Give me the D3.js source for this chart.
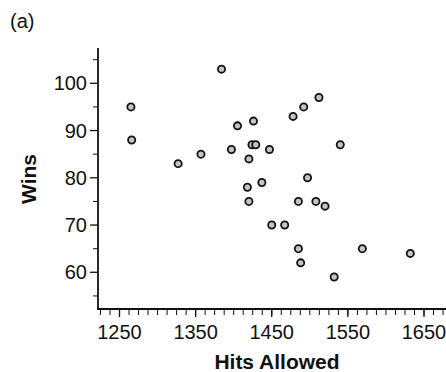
<!DOCTYPE html>
<html>
<head>
<meta charset="utf-8">
<script src="https://cdn.jsdelivr.net/npm/d3@7"></script>
<style>
  body { margin: 0; background: #fff; }
  svg { display: block; font-family: "Liberation Sans", Arial, sans-serif; }
</style>
</head>
<body>
<svg id="chart"></svg>
<script>
// hits allowed vs wins, one point per team
const hitsAllowed = [1265, 1266, 1327, 1357, 1384, 1397, 1405, 1426, 1424, 1429,
                     1420, 1418, 1420, 1437, 1447, 1450, 1467, 1478, 1492, 1512,
                     1497, 1485, 1508, 1520, 1540, 1485, 1488, 1532, 1569, 1632];
const wins = [95, 88, 83, 85, 103, 86, 91, 92, 87, 87,
              84, 78, 75, 79, 86, 70, 70, 93, 95, 97,
              80, 75, 75, 74, 87, 65, 62, 59, 65, 64];
const xTickLabels = [1250, 1350, 1450, 1550, 1650];
const yTickLabels = [60, 70, 80, 90, 100];

drawChart();

function drawChart() {
    const width = 446, height = 372;
    const svg = d3.select("#chart").attr("width", width).attr("height", height);

    const x = d3.scaleLinear().domain([1250, 1650]).range([119.5, 424]);
    const y = d3.scaleLinear().domain([60, 100]).range([272.3, 83.3]);
    const x0 = 98, y0 = 309, yTop = 48;

    // (a) panel label
    svg.append("text").attr("x", 10).attr("y", 28)
        .attr("font-size", 20).attr("fill", "#111").text("(a)");

    // y axis
    const yMinor = d3.range(55, 108, 10);
    svg.append("line").attr("x1", x0).attr("x2", x0).attr("y1", yTop).attr("y2", y0 + 1)
        .attr("stroke", "#111").attr("stroke-width", 1.8);
    svg.selectAll(".ytick").data(yTickLabels).join("line")
        .attr("x1", x0 - 8).attr("x2", x0).attr("y1", d => y(d)).attr("y2", d => y(d))
        .attr("stroke", "#111").attr("stroke-width", 1.3);
    svg.selectAll(".yminor").data(yMinor).join("line")
        .attr("x1", x0 - 5).attr("x2", x0).attr("y1", d => y(d)).attr("y2", d => y(d))
        .attr("stroke", "#111").attr("stroke-width", 1);
    svg.selectAll(".ylab").data(yTickLabels).join("text")
        .attr("x", x0 - 11).attr("y", d => y(d) + 7)
        .attr("text-anchor", "end").attr("font-size", 20).attr("fill", "#111")
        .text(d => d);

    // x axis
    const xMinor = d3.range(1225, 1680, 12.5);
    svg.append("line").attr("x1", x0 - 1).attr("x2", width).attr("y1", y0).attr("y2", y0)
        .attr("stroke", "#111").attr("stroke-width", 1.8);
    svg.selectAll(".xminor").data(xMinor).join("line")
        .attr("x1", d => x(d)).attr("x2", d => x(d)).attr("y1", y0).attr("y2", y0 + 6)
        .attr("stroke", "#111").attr("stroke-width", 1);
    svg.selectAll(".xtick").data(xTickLabels).join("line")
        .attr("x1", d => x(d)).attr("x2", d => x(d)).attr("y1", y0).attr("y2", y0 + 8)
        .attr("stroke", "#111").attr("stroke-width", 1.3);
    svg.selectAll(".xlab").data(xTickLabels).join("text")
        .attr("x", d => x(d)).attr("y", 339)
        .attr("text-anchor", "middle").attr("font-size", 20).attr("fill", "#111")
        .text(d => d);

    // titles
    svg.append("text").attr("x", 277).attr("y", 369)
        .attr("text-anchor", "middle").attr("font-size", 21).attr("font-weight", "bold")
        .attr("fill", "#111").text("Hits Allowed");
    svg.append("text").attr("transform", "translate(36,179) rotate(-90)")
        .attr("text-anchor", "middle").attr("font-size", 21).attr("font-weight", "bold")
        .attr("fill", "#111").text("Wins");

    // points
    svg.selectAll(".pt").data(hitsAllowed).join("circle")
        .attr("cx", d => x(d)).attr("cy", (d, i) => y(wins[i]))
        .attr("r", 3.6)
        .attr("fill", "#c4c4c4").attr("stroke", "#111").attr("stroke-width", 1.8);
}
</script>
</body>
</html>
